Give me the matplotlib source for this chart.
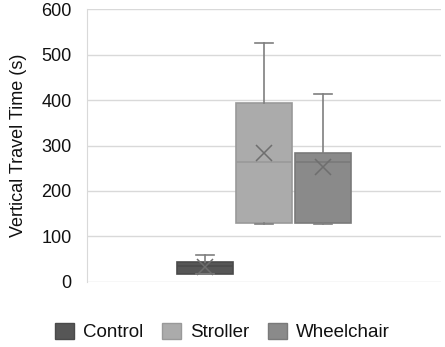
import matplotlib
matplotlib.use("Agg")
import matplotlib.pyplot as plt
from matplotlib.patches import Patch

plt.rcParams['font.family'] = ['Liberation Sans', 'DejaVu Sans']

# Travel time summary per group (seconds)
groups = ["Control", "Stroller", "Wheelchair"]
whisker_low = [17, 128, 128]
q1 = [17, 130, 130]
median = [35, 263, 263]
q3 = [44, 394, 284]
whisker_high = [60, 527, 413]
mean = [33, 284, 252]

fill_colors = ["#565656", "#ababab", "#8a8a8a"]
edge_colors = ["#4a4a4a", "#999999", "#7a7a7a"]
y_ticks = [0, 100, 200, 300, 400, 500, 600]

fig = plt.figure(figsize=(4.45, 3.47), dpi=100)
ax = fig.add_axes([0.1955, 0.188, 0.7955, 0.785])

positions = [0.5 + (i - 1) * 0.1667 for i in range(len(groups))]
for i, g in enumerate(groups):
    stats = [dict(med=median[i], q1=q1[i], q3=q3[i], whislo=whisker_low[i],
                  whishi=whisker_high[i], mean=mean[i], fliers=[], label=g)]
    ax.bxp(stats, positions=[positions[i]], widths=0.158, patch_artist=True,
           showmeans=True, showcaps=True,
           boxprops=dict(facecolor=fill_colors[i], edgecolor=edge_colors[i], linewidth=1.2),
           medianprops=dict(color=edge_colors[i], linewidth=1.2),
           whiskerprops=dict(color="#7f7f7f", linewidth=1.2),
           capprops=dict(color="#7f7f7f", linewidth=1.2),
           capwidths=0.05,
           meanprops=dict(marker="x", markersize=11, markeredgecolor="#6e6e6e",
                          markeredgewidth=1.1),
           zorder=3)

ax.set_xlim(0, 1)
ax.set_ylim(0, 600)
ax.set_yticks(y_ticks)
ax.set_xticks([])
ax.yaxis.grid(True, color="#d9d9d9", linewidth=1.0)
ax.set_axisbelow(True)
for side in ["top", "right", "bottom"]:
    ax.spines[side].set_visible(False)
ax.spines["left"].set_color("#d9d9d9")
ax.tick_params(axis="y", length=0, labelsize=13, pad=11, labelcolor="#111111")
ax.set_ylabel("Vertical Travel Time (s)", fontsize=13, color="#111111", labelpad=10)

handles = [Patch(facecolor=c, edgecolor=e, label=g)
           for g, c, e in zip(groups, fill_colors, edge_colors)]
fig.legend(handles=handles, loc="center", bbox_to_anchor=(0.5, 0.043), ncol=3,
           frameon=False, fontsize=13.5, handlelength=1.0, handleheight=1.0,
           handletextpad=0.5, columnspacing=1.0, labelcolor="#111111")

fig.savefig("out.png", dpi=100)
